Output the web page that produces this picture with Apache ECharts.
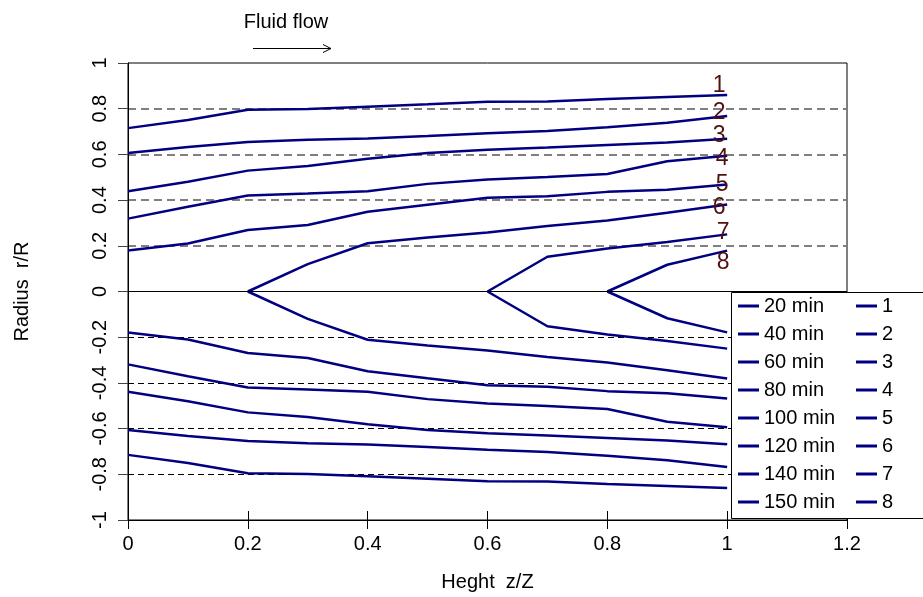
<!DOCTYPE html>
<html>
<head>
<meta charset="utf-8">
<script src="https://cdn.jsdelivr.net/npm/echarts@6/dist/echarts.min.js"></script>
<style>html,body{margin:0;padding:0;background:#fff;}#c{width:923px;height:597px;}</style>
</head>
<body>
<div id="c"></div>
<script>
// Data
var heights = [0, 0.1, 0.2, 0.3, 0.4, 0.5, 0.6, 0.7, 0.8, 0.9, 1.0];
var topNames = ['20 min', '40 min', '60 min', '80 min', '100 min', '120 min', '140 min', '150 min'];
var bottomNames = ['1', '2', '3', '4', '5', '6', '7', '8'];
var curveLabels = ['1', '2', '3', '4', '5', '6', '7', '8'];

var top20  = [0.715, 0.751, 0.795, 0.799, 0.809, 0.819, 0.830, 0.831, 0.842, 0.851, 0.860];
var top40  = [0.606, 0.632, 0.654, 0.664, 0.670, 0.680, 0.693, 0.702, 0.719, 0.739, 0.768];
var top60  = [0.439, 0.480, 0.529, 0.549, 0.581, 0.606, 0.620, 0.630, 0.641, 0.652, 0.668];
var top80  = [0.319, 0.371, 0.420, 0.429, 0.439, 0.471, 0.490, 0.501, 0.514, 0.570, 0.594];
var top100 = [0.179, 0.210, 0.269, 0.291, 0.349, 0.380, 0.410, 0.417, 0.436, 0.445, 0.468];
var top120 = [null, null, 0, 0.120, 0.211, 0.236, 0.258, 0.287, 0.311, 0.345, 0.381];
var top140 = [null, null, null, null, null, null, 0, 0.152, 0.188, 0.217, 0.250];
var top150 = [null, null, null, null, null, null, null, null, 0, 0.117, 0.179];

var bot1 = [-0.715, -0.751, -0.795, -0.799, -0.809, -0.819, -0.830, -0.831, -0.842, -0.851, -0.860];
var bot2 = [-0.606, -0.632, -0.654, -0.664, -0.670, -0.680, -0.693, -0.702, -0.719, -0.739, -0.768];
var bot3 = [-0.439, -0.480, -0.529, -0.549, -0.581, -0.606, -0.620, -0.630, -0.641, -0.652, -0.668];
var bot4 = [-0.319, -0.371, -0.420, -0.429, -0.439, -0.471, -0.490, -0.501, -0.514, -0.570, -0.594];
var bot5 = [-0.179, -0.210, -0.269, -0.291, -0.349, -0.380, -0.410, -0.417, -0.436, -0.445, -0.468];
var bot6 = [null, null, 0, -0.120, -0.211, -0.236, -0.258, -0.287, -0.311, -0.345, -0.381];
var bot7 = [null, null, null, null, null, null, 0, -0.152, -0.188, -0.217, -0.250];
var bot8 = [null, null, null, null, null, null, null, null, 0, -0.117, -0.179];

var topSets = [top20, top40, top60, top80, top100, top120, top140, top150];
var botSets = [bot1, bot2, bot3, bot4, bot5, bot6, bot7, bot8];

// label offsets (style only)
var labelOffsets = [[-8, -9], [-8, -3], [-8, -3], [-5, 3], [-5, 0], [-8, 3], [-4, -2], [-4, 12]];

var FONT = 'Liberation Sans, Arial, sans-serif';
var NAVY = '#000080';

function pairs(arr) {
  var out = [];
  for (var i = 0; i < heights.length; i++) {
    out.push([heights[i], arr[i]]);
  }
  return out;
}

var series = [];
topSets.forEach(function (arr, i) {
  var s = {
    name: topNames[i], type: 'line', data: pairs(arr),
    showSymbol: false, symbol: 'none', connectNulls: false,
    lineStyle: { color: NAVY, width: 2.5 }, itemStyle: { color: NAVY },
    animation: false, silent: true,
    endLabel: {
      show: true, formatter: curveLabels[i], color: '#4f1010',
      fontFamily: FONT, fontSize: 23, align: 'center', verticalAlign: 'middle',
      distance: 0, offset: labelOffsets[i]
    }
  };
  if (i === 0) {
    s.markLine = {
      silent: true, symbol: 'none', label: { show: false },
      lineStyle: { color: '#000', width: 1, type: 'solid' },
      data: [{ yAxis: 0 }], animation: false
    };
  }
  series.push(s);
});
botSets.forEach(function (arr, i) {
  series.push({
    name: bottomNames[i], type: 'line', data: pairs(arr),
    showSymbol: false, symbol: 'none', connectNulls: false,
    lineStyle: { color: NAVY, width: 2.5 }, itemStyle: { color: NAVY },
    animation: false, silent: true
  });
});

var chart = echarts.init(document.getElementById('c'), null, { renderer: 'canvas' });

var legendCommon = {
  orient: 'vertical', itemWidth: 21, itemHeight: 3, icon: 'rect', itemGap: 8,
  padding: 0, selectedMode: false,
  textStyle: { fontFamily: FONT, fontSize: 20, lineHeight: 20, color: '#000' }
};

chart.setOption({
  animation: false,
  backgroundColor: '#fff',
  grid: { left: 128, right: 76, top: 63, bottom: 75, show: true, borderColor: '#000', borderWidth: 1 },
  xAxis: [{
    type: 'value', min: 0, max: 1.2, interval: 0.2, position: 'bottom',
    name: 'Heght  z/Z', nameLocation: 'middle', nameGap: 52,
    nameTextStyle: { fontFamily: FONT, fontSize: 20, color: '#000' },
    axisLine: { onZero: false, lineStyle: { color: '#000', width: 1 } },
    axisTick: { show: true, inside: false, length: 9, lineStyle: { color: '#000' } },
    axisLabel: { fontFamily: FONT, fontSize: 20, color: '#000', margin: 14 },
    splitLine: { show: false }
  }, {
    type: 'value', min: 0, max: 1.2, interval: 0.2, position: 'bottom',
    axisLine: { show: false, onZero: false },
    axisTick: { show: true, inside: true, length: 9, lineStyle: { color: '#000' } },
    axisLabel: { show: false }, splitLine: { show: false }
  }],
  yAxis: [{
    type: 'value', min: -1, max: 1, interval: 0.2, position: 'left',
    name: 'Radius  r/R', nameLocation: 'middle', nameGap: 96,
    nameTextStyle: { fontFamily: FONT, fontSize: 20, color: '#000' },
    axisLine: { onZero: false, lineStyle: { color: '#000', width: 1 } },
    axisTick: { show: true, length: 10, lineStyle: { color: '#444' } },
    axisLabel: { fontFamily: FONT, fontSize: 20, color: '#000', rotate: 90, margin: 18 },
    splitLine: {
      show: true,
      lineStyle: {
        color: ['rgba(0,0,0,0)', '#000', '#000', '#000', '#000', 'rgba(0,0,0,0)',
                'rgba(0,0,0,0)', 'rgba(0,0,0,0)', 'rgba(0,0,0,0)', 'rgba(0,0,0,0)', 'rgba(0,0,0,0)'],
        width: 1, type: [6, 4]
      }
    }
  }, {
    type: 'value', min: -1, max: 1, interval: 0.2, position: 'left',
    axisLine: { show: false, onZero: false }, axisTick: { show: false }, axisLabel: { show: false },
    splitLine: {
      show: true,
      lineStyle: {
        color: ['rgba(0,0,0,0)', 'rgba(0,0,0,0)', 'rgba(0,0,0,0)', 'rgba(0,0,0,0)', 'rgba(0,0,0,0)', 'rgba(0,0,0,0)',
                '#808080', '#808080', '#808080', '#808080', 'rgba(0,0,0,0)'],
        width: 2, type: [8, 5]
      }
    }
  }],
  legend: [
    Object.assign({}, legendCommon, { data: topNames, left: 738, top: 296 }),
    Object.assign({}, legendCommon, { data: bottomNames, left: 856, top: 296 })
  ],
  graphic: [
    { type: 'rect', z: 3, silent: true, shape: { x: 731.5, y: 292.5, width: 220, height: 226 },
      style: { fill: '#fff', stroke: '#000', lineWidth: 1 } },
    { type: 'text', z: 5, silent: true, x: 286, y: 22,
      style: { text: 'Fluid flow', fontFamily: FONT, fontSize: 20, fill: '#000', align: 'center', verticalAlign: 'middle' } },
    { type: 'line', z: 5, silent: true, shape: { x1: 253, y1: 48.5, x2: 331, y2: 48.5 },
      style: { stroke: '#000', lineWidth: 1 } },
    { type: 'polyline', z: 5, silent: true, shape: { points: [[323, 44.5], [331, 48.5], [323, 52.5]] },
      style: { stroke: '#000', lineWidth: 1, fill: null } }
  ],
  series: series
});
</script>
</body>
</html>
